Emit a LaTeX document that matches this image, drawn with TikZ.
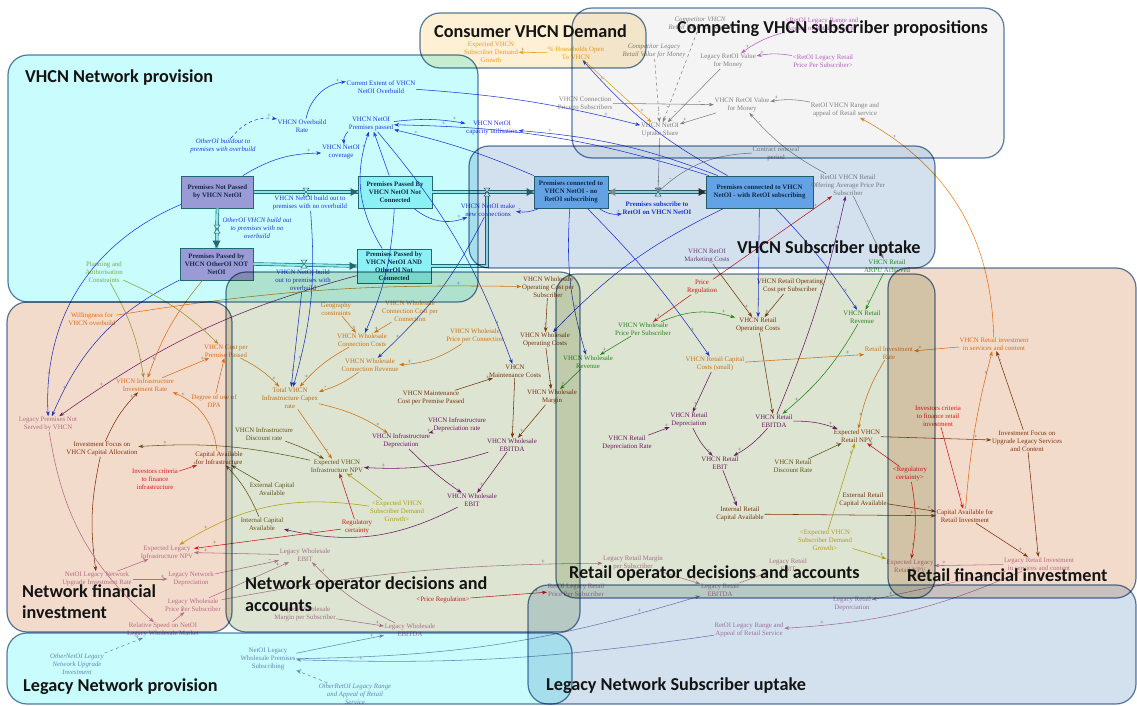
\documentclass[tikz,border=0pt]{standalone}
\usepackage{fontspec}
\setmainfont{Liberation Serif}
\newfontfamily\titlefont{Carlito}
\usetikzlibrary{arrows.meta}

% variable colours
\definecolor{cblue}{RGB}{35,60,225}
\definecolor{corange}{RGB}{232,128,30}
\definecolor{cbrown}{RGB}{135,60,20}
\definecolor{cpurple}{RGB}{120,30,120}
\definecolor{cmauve}{RGB}{190,125,165}
\definecolor{cgreen}{RGB}{40,150,30}
\definecolor{cred}{RGB}{228,30,30}
\definecolor{cgray}{RGB}{135,135,135}
\definecolor{colive}{RGB}{110,95,30}
\definecolor{cyellow}{RGB}{200,178,20}
\definecolor{cgold}{RGB}{240,168,30}
\definecolor{cplan}{RGB}{160,170,60}
\definecolor{cviolet}{RGB}{190,100,200}
\definecolor{cslate}{RGB}{125,135,185}
% stocks and pipes
\definecolor{pipecol}{RGB}{45,105,115}
\definecolor{pipefill}{RGB}{175,235,235}
\definecolor{stocktext}{RGB}{25,45,70}
\definecolor{spurple}{RGB}{196,156,218}
\definecolor{scyan}{RGB}{178,244,248}
\definecolor{sblue}{RGB}{120,185,245}
% sector backgrounds
\definecolor{rcyan}{RGB}{201,252,252}
\definecolor{ryellow}{RGB}{253,240,212}
\definecolor{rgray}{RGB}{244,244,244}
\definecolor{rblue}{RGB}{211,225,239}
\definecolor{rpeach}{RGB}{243,219,204}
\definecolor{rgreen}{RGB}{221,228,209}
\definecolor{redge}{RGB}{90,125,165}

\tikzset{
  lb/.style={font=\fontsize{6.8}{8}\selectfont, align=center, inner sep=0.6pt, text=#1},
  lbi/.style={font=\fontsize{6.8}{8}\selectfont\itshape, align=center, inner sep=0.6pt, text=#1},
  stock/.style={draw=pipecol, line width=0.9pt, fill=#1, align=center, inner sep=1pt,
    font=\fontsize{6.8}{8}\selectfont\bfseries, text=stocktext, minimum height=32pt},
  ln/.style={draw=#1, line width=0.55pt, -{Stealth[length=5pt,width=3.6pt]}},
  sgn/.style={font=\fontsize{6}{6}\selectfont, text=black!60, inner sep=0.5pt},
  pipe/.style={draw=pipecol, double=pipefill, double distance=2.2pt, line width=0.6pt},
  sector/.style={draw=redge, line width=1.2pt, rounded corners=20pt},
  ttl/.style={font=\titlefont\bfseries\fontsize{18.2}{20}\selectfont, anchor=west, inner sep=0pt, text=black!92},
}
\newcommand{\cx}[5][+]{\path (#3) edge[ln=#2,#5] node[sgn,pos=.86,above]{#1} (#4);}
\newcommand{\valve}[1]{\draw[fill=white,draw=pipecol,line width=0.5pt,shift={(#1)}] (-3,-4) -- (3,-4) -- (-3,4) -- (3,4) -- cycle;}

\begin{document}
\begin{tikzpicture}[x=1pt,y=-1pt]
\useasboundingbox (0,0) rectangle (1137,706);

% ---------- stocks ----------
\node[stock=spurple, minimum width=72pt] (s1) at (217.5,192) {Premises Not Passed\\by VHCN NetOI};
\node[stock=scyan, minimum width=74pt] (s2) at (395,192) {Premises Passed By\\VHCN NetOI Not\\Connected};
\node[stock=spurple, minimum width=73pt] (s3) at (216.5,264) {Premises Passed by\\VHCN OtherOI NOT\\NetOI};
\node[stock=scyan, minimum width=74pt, minimum height=34pt] (s4) at (394,266) {Premises Passed by\\VHCN NetOI AND\\OtherOI Not\\Connected};
\node[stock=sblue, minimum width=74pt] (s5) at (571,192) {Premises connected to\\VHCN NetOI - no\\RetOI subscribing};
\node[stock=sblue, minimum width=107pt] (s6) at (759.5,192) {Premises connected to VHCN\\NetOI - with RetOI subscribing};

% ---------- valves and pipes ----------
\coordinate (v1) at (306,192);
\coordinate (v2) at (487,192);
\coordinate (v3) at (658,192);
\coordinate (v4) at (217,229);
\coordinate (v5) at (304,264);
\draw[pipe] (s1.east) -- (s2.west);
\draw[pipe] (s2.east) -- (s5.west);
\draw[pipe] (s5.east) -- (s6.west);
\draw[pipe] (s1.south) -- (s3.north);
\draw[pipe] (s3.east) -- (s4.west);
\draw[pipe] (s4.east) -| (v2);
\fill[pipecol] (s2.west) -- ++(-7,-4) -- ++(0,8) -- cycle;
\fill[pipecol] (s5.west) -- ++(-7,-4) -- ++(0,8) -- cycle;
\fill[black!80] (s6.west) -- ++(-7,-4) -- ++(0,8) -- cycle;
\fill[black!40] (s5.east) -- ++(7,-4) -- ++(0,8) -- cycle;
\fill[pipecol] (s3.north) -- ++(-4,-7) -- ++(8,0) -- cycle;
\fill[pipecol] (s4.west) -- ++(-7,-4) -- ++(0,8) -- cycle;
\valve{v1}\valve{v2}\valve{v3}\valve{v4}\valve{v5}

% ---------- VHCN network provision ----------
\node[lb=cblue] (cur) at (381,87) {Current Extent of VHCN\\NetOI Overbuild};
\node[lb=cblue] (ovr) at (302,126) {VHCN Overbuild\\Rate};
\node[lb=cblue] (ppass) at (371,124) {VHCN NetOI\\Premises passed};
\node[lb=cblue] (cap) at (492,128) {VHCN NetOI\\capacity utilisation};
\node[lb=cblue] (cov) at (341,152) {VHCN NetOI\\coverage};
\node[lbi=cblue] (ooib) at (223,146) {OtherOI buildout to\\premises with overbuild};
\node[lb=cblue] (bno) at (310,203) {VHCN NetOI build out to\\premises with no overbuild};
\node[lbi=cblue] (oino) at (257,228) {OtherOI VHCN build out\\to premises with no\\overbuild};
\node[lb=cblue] (bov) at (303,280) {VHCN NetOI build\\out to premises with\\overbuild};
\node[lb=cblue] (mk) at (488,210) {VHCN NetOI make\\new connections};
\node[lb=cblue, font=\fontsize{6.8}{8}\selectfont\bfseries] (sub) at (657,208) {Premises subscribe to\\RetOI on VHCN NetOI};
\node[lb=cplan] (plan) at (104,272) {Planning and\\Authorisation\\Constraints};

% ---------- competing propositions ----------
\node[lbi=cgray] (cvhcn) at (700,24) {Competitor VHCN\\Retail Value for Money};
\node[lbi=cgray] (cleg) at (654,51) {Competitor Legacy\\Retail Value for Money};
\node[lb=cgray] (lrv) at (728,61) {Legacy RetOI Value\\for Money};
\node[lb=cviolet] (rlrp) at (823,61) {<RetOI Legacy Retail\\Price Per Subscriber>};
\node[lb=cviolet] (rlra) at (822,25) {<RetOI Legacy Range and\\Appeal of Retail Service>};
\node[lb=cgray] (vcp) at (585,103) {VHCN Connection\\Price to Subscribers};
\node[lb=cgray] (vrv) at (742,105) {VHCN RetOI Value\\for Money};
\node[lb=cgray] (rvr) at (845,110) {RetOI VHCN Range and\\appeal of Retail service};
\node[lb=cgray] (upt) at (660,130) {VHCN NetOI\\Uptake Share};

% ---------- consumer demand ----------
\node[lb=cgold] (edg) at (491,52) {Expected VHCN\\Subscriber Demand\\Growth};
\node[lb=cgold] (hho) at (576,53) {\% Households Open\\To VHCN};

% ---------- VHCN subscriber uptake ----------
\node[lb=cgray] (crp) at (776,154) {Contract renewal\\period};
\node[lb=cgray] (rvo) at (848,185) {RetOI VHCN Retail\\Offering Average Price Per\\Subscriber};
\node[lb={cpurple!60!cgray}] (mkc) at (707,256) {VHCN RetOI\\Marketing Costs};
\node[lb=cgreen] (arpu) at (887,266) {VHCN Retail\\ARPU Achieved};

% ---------- network financial investment ----------
\node[lb=corange] (will) at (92,319) {Willingness for\\VHCN overbuild};
\node[lb=corange] (cpp) at (226,351) {VHCN Cost per\\Premise Passed};
\node[lb=corange] (vir) at (145,385) {VHCN Infrastructure\\Investment Rate};
\node[lb=corange] (dpa) at (214,401) {Degree of use of\\DPA};
\node[lb=cmauve] (lpn) at (48,424) {Legacy Premises Not\\Served by VHCN};
\node[lb=cbrown] (ifc) at (102,449) {Investment Focus on\\VHCN Capital Allocation};
\node[lb=cbrown] (cai) at (219,458) {Capital Available\\for Infrastructure};
\node[lb=cred] (icf) at (155,479) {Investors criteria\\to finance\\infrastructure};
\node[lb=cmauve] (eln) at (167,552) {Expected Legacy\\Infrastructure NPV};
\node[lb=cmauve] (nlu) at (97,579) {NetOI Legacy Network\\Upgrade Investment Rate};
\node[lb=cmauve] (lnd) at (191,579) {Legacy Network\\Depreciation};
\node[lb=cmauve] (lwp) at (193,605) {Legacy Wholesale\\Price Per Subscriber};
\node[lb=cmauve] (rsp) at (163,630) {Relative Speed on NetOI\\Legacy Wholesale Market};

% ---------- legacy network provision ----------
\node[lbi=cslate] (onl) at (77,664) {OtherNetOI Legacy\\Network  Upgrade\\Investment};
\node[lb=cslate] (nlw) at (268,659) {NetOI Legacy\\Wholesale Premises\\Subscribing};
\node[lbi=cslate] (orl) at (355,694) {OtherRetOI Legacy Range\\and Appeal of Retail\\Service};

% ---------- network operator decisions ----------
\node[lb=corange] (geo) at (336,309) {Geography\\constraints};
\node[lb=corange] (wccc) at (410,311) {VHCN Wholesale\\Connection Cost per\\Connection};
\node[lb=corange] (wcc) at (362,340) {VHCN Wholesale\\Connection Costs};
\node[lb=corange] (wcr) at (370,365) {VHCN Wholesale\\Connection Revenue};
\node[lb=corange] (wpc) at (475,336) {VHCN Wholesale\\Price per Connection};
\node[lb=cbrown] (wocs) at (548,287) {VHCN Wholesale\\Operating Cost per\\Subscriber};
\node[lb=cbrown] (woc) at (545,340) {VHCN Wholesale\\Operating Costs};
\node[lb=cbrown] (mc) at (515,371) {VHCN\\Maintenance Costs};
\node[lb=cbrown] (wm) at (552,397) {VHCN Wholesale\\Margin};
\node[lb=cbrown] (mcp) at (431,398) {VHCN Maintenance\\Cost per Premise Passed};
\node[lb={corange!80!colive}] (tcx) at (290,398) {Total VHCN\\Infrastructure Capex\\rate};
\node[lb=cpurple] (idr) at (457,425) {VHCN Infrastructure\\Depreciation rate};
\node[lb=cpurple] (idp) at (401,441) {VHCN Infrastructure\\Depreciation};
\node[lb=cpurple] (web) at (512,445) {VHCN Wholesale\\EBITDA};
\node[lb=colive] (idisc) at (264,434) {VHCN Infrastructure\\Discount rate};
\node[lb=colive] (enpv) at (337,466) {Expected VHCN\\Infrastructure NPV};
\node[lb=colive] (eca) at (272,489) {External Capital\\Available};
\node[lb=colive] (ica) at (262,524) {Internal Capital\\Available};
\node[lb=cyellow] (edg2) at (397,511) {<Expected VHCN\\Subscriber Demand\\Growth>};
\node[lb=cred] (reg) at (357,527) {Regulatory\\certainty};
\node[lb=cpurple] (webit) at (472,500) {VHCN Wholesale\\EBIT};
\node[lb=cmauve] (lwe) at (305,555) {Legacy Wholesale\\EBIT};
\node[lb=cred] (prg) at (443,600) {<Price Regulation>};
\node[lb=cmauve] (lwm) at (305,614) {Legacy Wholesale\\Margin per Subscriber};
\node[lb=cmauve] (lwebitda) at (410,630) {Legacy Wholesale\\EBITDA};

% ---------- retail operator decisions ----------
\node[lb=cred] (preg) at (702,287) {Price\\Regulation};
\node[lb=cbrown] (rocs) at (790,286) {VHCN Retail Operating\\Cost per Subscriber};
\node[lb=cgreen] (wps) at (643,329) {VHCN Wholesale\\Price Per Subscriber};
\node[lb=cbrown] (roc) at (758,325) {VHCN Retail\\Operating Costs};
\node[lb=cgreen] (rrev) at (862,317) {VHCN Retail\\Revenue};
\node[lb=corange] (rir) at (889,353) {Retail Investment\\Rate};
\node[lb=corange] (rinv) at (994,344) {VHCN Retail investment\\in services and content};
\node[lb=cgreen] (wrev) at (588,362) {VHCN Wholesale\\Revenue};
\node[lb=corange] (rcc) at (715,364) {VHCN Retail Capital\\Costs (small)};
\node[lb=cpurple] (rdep) at (689,420) {VHCN Retail\\Depreciation};
\node[lb=cpurple] (rdr) at (627,443) {VHCN Retail\\Depreciation Rate};
\node[lb=cpurple] (rebitda) at (774,421) {VHCN Retail\\EBITDA};
\node[lb=cpurple] (rebit) at (720,463) {VHCN Retail\\EBIT};
\node[lb=cbrown] (rnpv) at (857,436) {Expected VHCN\\Retail NPV};
\node[lb=colive] (rdisc) at (793,466) {VHCN Retail\\Discount Rate};
\node[lb=cred] (icr) at (938,416) {Investors criteria\\to finance retail\\investment};
\node[lb=cbrown] (ifu) at (1027,441) {Investment Focus on\\Upgrade Legacy Services\\and Content};
\node[lb=cred] (rreg) at (910,474) {<Regulatory\\certainty>};
\node[lb=cbrown] (erc) at (863,500) {External Retail\\Capital Available};
\node[lb=cbrown] (car) at (965,516) {Capital Available for\\Retail Investment};
\node[lb=cbrown] (irc) at (740,514) {Internal Retail\\Capital Available};
\node[lb=cyellow] (edg3) at (825,540) {<Expected VHCN\\Subscriber Demand\\Growth>};
\node[lb=cmauve] (lrm) at (633,563) {Legacy Retail Margin\\per Subscriber};
\node[lb=cmauve] (lre) at (788,565) {Legacy Retail\\EBIT};
\node[lb=cmauve] (elr) at (910,566) {Expected Legacy\\Retail NPV};
\node[lb=cmauve] (lri) at (1039,564) {Legacy Retail Investment\\in services and content};
\node[lb=cmauve] (rlp) at (576,590) {RetOI Legacy Retail\\Price Per Subscriber};
\node[lb=cmauve] (lrebitda) at (720,590) {Legacy Retail\\EBITDA};
\node[lb=cmauve] (lrd) at (852,604) {Legacy Retail\\Depreciation};
\node[lb=cmauve] (rlr) at (749,630) {RetOI Legacy Range and\\Appeal of Retail Service};

% ---------- links: network build and connection ----------
\cx{cblue}{ovr}{cur}{bend left=35}
\cx{cblue}{cur}{upt}{bend left=5}
\cx{cblue}{ppass}{cap}{bend left=8}
\cx{cblue}{s6}{cap}{bend right=8}
\cx[-]{cblue}{ppass}{cov}{bend right=25}
\cx{cblue}{s2}{ppass}{}
\cx{cblue}{s4}{ppass}{bend left=25}
\cx{cblue}{s5}{ppass}{bend right=5}
\cx{cblue}{s6}{ppass}{bend right=8}
\cx{cblue,dashed}{ooib}{ovr}{bend left=30}
\cx{cblue}{s1}{cov}{bend left=15}
\cx{cblue}{s2}{mk}{bend right=30}
\cx[-]{cblue}{s5}{mk}{bend left=15}
\cx{cblue}{s1}{lpn}{bend right=35}
\cx{cblue}{s3}{lpn}{bend right=20}
\cx{cpurple}{s4}{lpn}{bend right=10}
\cx{cblue}{ppass}{mc}{bend left=10}
\cx{cblue}{s5}{wrev}{bend right=10}
\cx{cblue}{s6}{roc}{}
\cx{cblue}{s6}{rrev}{bend left=5}
\cx{cblue}{s5}{rcc}{bend left=5}
\cx{cblue}{s6}{woc}{bend right=10}
\cx{cblue}{s2}{wcc}{bend left=10}
\cx{cblue}{mk}{wcr}{bend left=10}
\cx{cblue}{bno}{tcx}{bend left=10}
\cx{cblue}{bov}{tcx}{}
\cx{cblue}{s5}{sub}{bend right=20}
\cx{cblue}{s6}{hho}{bend left=10}
\cx{cgray}{upt}{v3}{}
\cx[-]{cgray}{crp}{v3}{bend right=20}

% ---------- links: demand and competing offers ----------
\cx{cgold}{hho}{edg}{}
\cx{cgold}{hho}{upt}{}
\cx[-]{cgray,dashed}{cvhcn}{upt}{}
\cx[-]{cgray,dashed}{cleg}{upt}{}
\cx[-]{cgray}{lrv}{upt}{}
\cx{cgray}{vrv}{upt}{}
\cx[-]{cgray}{vcp}{vrv}{}
\cx{cgray}{rvr}{vrv}{bend right=10}
\cx[-]{cgray}{rvo}{vrv}{bend left=10}
\cx{cviolet}{rlrp}{lrv}{bend right=10}
\cx{cviolet}{rlra}{lrv}{bend right=10}
\cx{cgray}{rvo}{arpu}{}

% ---------- links: network operator and financing ----------
\cx{corange}{geo}{wcc}{}
\cx{corange}{wccc}{wcc}{}
\cx{corange}{wcc}{tcx}{bend right=10}
\cx[-]{corange}{wcr}{tcx}{bend left=10}
\cx{corange}{wpc}{wcr}{bend left=15}
\cx{corange}{cpp}{tcx}{bend left=10}
\cx{corange}{vir}{cpp}{}
\cx[-]{corange}{dpa}{cpp}{}
\cx{cplan}{plan}{cpp}{bend left=10}
\cx[-]{cplan}{plan}{vir}{bend left=10}
\cx{corange}{s3}{vir}{bend right=10}
\cx{corange}{will}{wocs}{bend left=5}
\cx{corange}{cai}{vir}{bend right=30}
\cx{cbrown}{ifc}{vir}{bend left=10}
\cx{cred}{icf}{cai}{}
\cx[-]{colive}{idisc}{enpv}{bend left=5}
\cx[-]{corange}{tcx}{enpv}{}
\cx{corange}{tcx}{idp}{bend left=10}
\cx{cpurple}{idr}{idp}{}
\cx[-]{cpurple}{idp}{webit}{bend right=5}
\cx{cpurple}{web}{webit}{}
\cx{cpurple}{web}{enpv}{bend left=10}
\cx{cbrown}{mcp}{mc}{}
\cx[-]{cbrown}{mc}{web}{}
\cx{cbrown}{wocs}{woc}{}
\cx[-]{cbrown}{woc}{wm}{}
\cx{cbrown}{wm}{web}{}
\cx{cgreen}{wrev}{wm}{}
\cx{colive}{eca}{cai}{}
\cx{colive}{ica}{cai}{bend right=10}
\cx{colive}{enpv}{ifc}{bend right=8}
\cx{cred}{reg}{enpv}{}
\cx{cyellow}{edg2}{enpv}{}
\cx{cpurple}{webit}{ica}{bend left=20}
\cx{cmauve}{lwe}{eln}{}
\cx{cred}{reg}{eln}{}
\cx{cyellow}{edg2}{eln}{bend right=20}
\cx[-]{cmauve}{nlu}{eln}{}
\cx{cmauve}{nlu}{lnd}{}
\cx[-]{cmauve}{lnd}{lwe}{}
\cx{cmauve}{lwp}{lwe}{}
\cx{cmauve}{rsp}{lwp}{}
\cx{cbrown}{ifc}{nlu}{bend right=10}
\cx{cmauve}{lpn}{rsp}{bend right=20}
\cx{cslate,dashed}{onl}{rsp}{}
\cx{cslate}{nlw}{lwebitda}{}
\cx[-]{cslate,dashed}{orl}{nlw}{}
\cx{cmauve}{lwm}{lwebitda}{}
\cx{cred}{prg}{rlp}{}
\cx{cmauve}{lwebitda}{lwe}{bend left=10}
\cx{cslate}{nlw}{lrebitda}{bend right=8}
\cx{cslate}{rlr}{nlw}{bend left=5}
\cx{cmauve}{lwp}{lrm}{bend left=5}

% ---------- links: retail operator and financing ----------
\cx{cred}{preg}{wps}{}
\cx{cgreen}{wps}{roc}{bend left=20}
\cx{cgreen}{wps}{wrev}{}
\cx{cbrown}{rocs}{roc}{}
\cx{cbrown}{mkc}{roc}{}
\cx[-]{cbrown}{roc}{rebitda}{}
\cx{cgreen}{rrev}{rebitda}{bend left=10}
\cx{cpurple}{rcc}{rdep}{}
\cx{cpurple}{rdr}{rdep}{}
\cx[-]{cpurple}{rdep}{rebit}{bend right=10}
\cx{cpurple}{rebitda}{rebit}{bend left=10}
\cx{cpurple}{rebitda}{rnpv}{bend left=10}
\cx[-]{colive}{rdisc}{rnpv}{}
\cx{cpurple}{rebit}{irc}{}
\cx{cbrown}{irc}{car}{}
\cx{cbrown}{erc}{car}{}
\cx{cbrown}{rnpv}{ifu}{}
\cx{cred}{icr}{car}{}
\cx{cred}{rreg}{rnpv}{}
\cx{cred}{rreg}{elr}{bend left=10}
\cx{cyellow}{edg3}{rnpv}{}
\cx{cyellow}{edg3}{elr}{}
\cx{corange}{rir}{rnpv}{bend right=10}
\cx{corange}{rinv}{rir}{}
\cx{corange}{car}{rinv}{bend left=5}
\cx[-]{cbrown}{ifu}{rinv}{}
\cx{cbrown}{car}{lri}{}
\cx{cbrown}{ifu}{lri}{}
\cx{corange}{rcc}{rir}{}
\cx{corange}{rinv}{rvr}{bend right=30}
\cx{cmauve}{lri}{elr}{}
\cx{cmauve}{lri}{lrd}{}
\cx{cmauve}{lri}{rlr}{bend left=10}
\cx{cmauve}{lrm}{lrebitda}{}
\cx{cmauve}{lrebitda}{lre}{}
\cx{cgreen}{arpu}{rrev}{}
\cx{cpurple}{rebitda}{rvo}{bend right=5}
\cx{cred}{preg}{rvo}{}

% ---------- sectors ----------
\begin{scope}[blend mode=multiply]
\draw[sector, fill=rcyan] (8,55) rectangle (478,302);
\draw[sector, fill=ryellow] (420,13) rectangle (646,68);
\draw[sector, fill=rgray] (572,8) rectangle (1004,158);
\draw[sector, fill=rblue] (469,146) rectangle (935,268);
\draw[sector, fill=rpeach] (7,302) rectangle (232,632);
\draw[sector, fill=rgreen] (226,272) rectangle (580,632);
\draw[sector, fill=rgreen] (556,274) rectangle (935,598);
\draw[sector, fill=rpeach] (888,268) rectangle (1136,598);
\draw[sector, fill=rcyan] (7,633) rectangle (572,704);
\draw[sector, fill=rblue] (528,585) rectangle (1136,704);
\end{scope}

% ---------- sector titles ----------
\node[ttl] (t1) at (25,78) {VHCN Network provision};
\node[ttl] (t2) at (434,31) {Consumer VHCN Demand};
\node[ttl] (t3) at (677,29) {Competing VHCN subscriber propositions};
\node[ttl] (t4) at (737,249) {VHCN Subscriber uptake};
\node[ttl] (t5) at (22,591) {Network financial};
\node[ttl] (t5b) at (22,612) {investment};
\node[ttl] (t6) at (245,585) {Network operator decisions and};
\node[ttl] (t6b) at (245,606) {accounts};
\node[ttl] (t7) at (569,574) {Retail operator decisions and accounts};
\node[ttl] (t8) at (907,575) {Retail financial investment};
\node[ttl] (t9) at (23,687) {Legacy Network provision};
\node[ttl] (t10) at (546,686) {Legacy Network Subscriber uptake};
\end{tikzpicture}
\end{document}
